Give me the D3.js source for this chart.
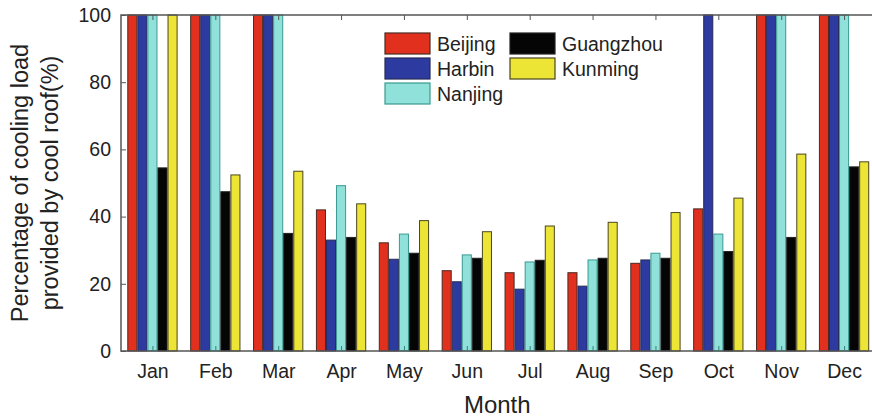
<!DOCTYPE html>
<html>
<head>
<meta charset="utf-8">
<script src="https://cdn.jsdelivr.net/npm/d3@7"></script>
<style>
  html, body { margin: 0; padding: 0; background: #fff; overflow: hidden; }
  svg { display: block; font-family: "Liberation Sans", Arial, sans-serif; }
</style>
</head>
<body>
<svg id="chart" width="872" height="417"></svg>
<script>
// Monthly share of cooling load provided by a cool roof (%)
const months = ["Jan", "Feb", "Mar", "Apr", "May", "Jun", "Jul", "Aug", "Sep", "Oct", "Nov", "Dec"];
const cities = ["Beijing", "Harbin", "Nanjing", "Guangzhou", "Kunming"];
const beijing   = [100, 100, 100, 42.0, 32.2, 23.9, 23.3, 23.3, 26.1, 42.3, 100, 100];
const harbin    = [100, 100, 100, 33.0, 27.3, 20.6, 18.4, 19.3, 27.1, 100, 100, 100];
const nanjing   = [100, 100, 100, 49.2, 34.8, 28.6, 26.5, 27.1, 29.1, 34.8, 100, 100];
const guangzhou = [54.5, 47.4, 35.0, 33.8, 29.1, 27.6, 27.0, 27.6, 27.6, 29.6, 33.8, 54.8];
const kunming   = [100, 52.4, 53.5, 43.8, 38.8, 35.5, 37.2, 38.3, 41.2, 45.5, 58.6, 56.3];
const yTicks = [0, 20, 40, 60, 80, 100];

const series = [beijing, harbin, nanjing, guangzhou, kunming];
const fills   = ["#e2301f", "#2d3ba0", "#8fe1da", "#050505", "#ede535"];
const strokes = ["#4a2a22", "#262a55", "#3a9a92", "#222222", "#4a4520"];

const svg = d3.select("#chart");
const plotLeft = 121, plotRight = 875.5, plotTop = 15, plotBottom = 351;

const x0 = d3.scaleBand().domain(months).range([plotLeft, plotRight]).paddingInner(0.2).paddingOuter(0.1);
const x1 = d3.scaleBand().domain(cities).range([0, x0.bandwidth()]);
const y = d3.scaleLinear().domain([0, 100]).range([plotBottom, plotTop]);

const txt = "#222";
const font = "Liberation Sans, Arial, sans-serif";

// bars
const groups = svg.append("g").selectAll("g")
  .data(months)
  .join("g")
  .attr("transform", m => `translate(${x0(m)},0)`);

groups.selectAll("rect")
  .data((m, i) => cities.map((c, k) => ({ city: c, k, v: series[k][i] })))
  .join("rect")
  .attr("x", d => x1(d.city) + 0.5)
  .attr("y", d => y(d.v))
  .attr("width", x1.bandwidth() - 1)
  .attr("height", d => y(0) - y(d.v))
  .attr("fill", d => fills[d.k])
  .attr("stroke", d => strokes[d.k])
  .attr("stroke-width", 1);

// frame
svg.append("rect")
  .attr("x", plotLeft).attr("y", plotTop)
  .attr("width", plotRight - plotLeft).attr("height", plotBottom - plotTop)
  .attr("fill", "none").attr("stroke", "#555").attr("stroke-width", 1.5);

// y axis with inward ticks
const yAxis = d3.axisLeft(y).tickValues(yTicks).tickSize(-5).tickPadding(10);
const gy = svg.append("g").attr("transform", `translate(${plotLeft},0)`).call(yAxis);
gy.select(".domain").remove();
gy.selectAll(".tick line").attr("stroke", "#555");
gy.selectAll(".tick text").attr("font-size", 19.5).attr("fill", txt).attr("font-family", font);

// x axis (bottom) with inward ticks at group centres
const xc = d3.scalePoint().domain(months).range([x0("Jan") + x0.bandwidth() / 2, x0("Dec") + x0.bandwidth() / 2]);
const xAxis = d3.axisBottom(xc).tickSize(-5).tickPadding(13);
const gx = svg.append("g").attr("transform", `translate(0,${plotBottom})`).call(xAxis);
gx.select(".domain").remove();
gx.selectAll(".tick line").attr("stroke", "#3a7f7a");
gx.selectAll(".tick text").attr("font-size", 19.5).attr("fill", txt).attr("font-family", font);

// top ticks
const gt = svg.append("g").attr("transform", `translate(0,${plotTop})`).call(d3.axisTop(xc).tickSize(-5).tickFormat(""));
gt.select(".domain").remove();
gt.selectAll(".tick line").attr("stroke", "#555");

// axis titles
svg.append("text")
  .attr("x", (plotLeft + plotRight) / 2 - 1).attr("y", 413)
  .attr("text-anchor", "middle").attr("font-size", 24).attr("fill", txt)
  .text("Month");

const yl = svg.append("g").attr("transform", "translate(0,183) rotate(-90)");
yl.append("text").attr("x", 0).attr("y", 28).attr("text-anchor", "middle")
  .attr("font-size", 23.5).attr("fill", txt).text("Percentage of cooling load");
yl.append("text").attr("x", 0).attr("y", 58).attr("text-anchor", "middle")
  .attr("font-size", 23.5).attr("fill", txt).text("provided by cool roof(%)");

// legend
const legendPos = [[385, 33], [385, 58], [385, 83], [510, 33], [510, 58]];
const lg = svg.append("g").selectAll("g")
  .data(cities)
  .join("g")
  .attr("transform", (c, k) => `translate(${legendPos[k][0]},${legendPos[k][1]})`);
lg.append("rect")
  .attr("width", 45).attr("height", 21)
  .attr("fill", (c, k) => fills[k])
  .attr("stroke", (c, k) => strokes[k]).attr("stroke-width", 1.2);
lg.append("text")
  .attr("x", 52).attr("y", 18)
  .attr("font-size", 19.5).attr("fill", txt)
  .text(c => c);
</script>
</body>
</html>
